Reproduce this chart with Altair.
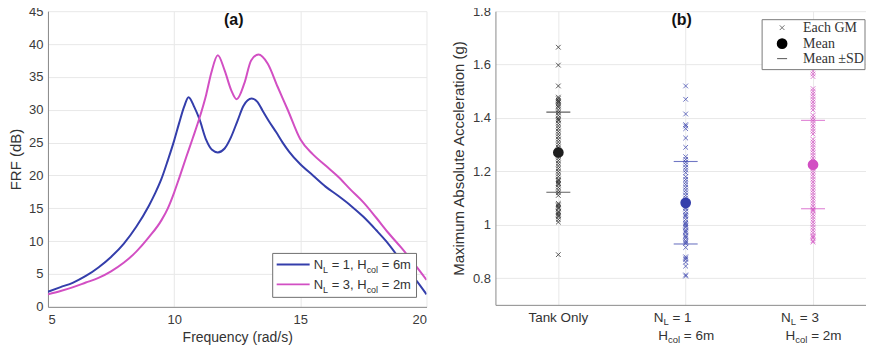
import altair as alt
import pandas as pd

# ---------------- Panel (a): FRF curves ----------------
freq_nl1 = [5.0, 5.5, 6.0, 6.5, 7.0, 7.5, 8.0, 8.5, 9.0, 9.25, 9.5, 9.75, 10.0, 10.2, 10.4,
            10.57, 10.8, 11.0, 11.27, 11.5, 11.73, 12.0, 12.25, 12.5, 12.75, 13.07, 13.3, 13.5,
            13.75, 14.04, 14.3, 14.56, 15.0, 15.5, 16.0, 16.5, 17.0, 17.5, 18.0, 18.4, 18.8,
            19.2, 19.6, 20.0]
frf_nl1 = [2.3, 3.0, 3.7, 4.7, 6.0, 7.6, 9.6, 12.2, 15.4, 17.3, 19.5, 22.3, 25.3, 28.0, 30.5,
           31.9, 30.4, 28.6, 25.4, 23.9, 23.5, 24.1, 25.8, 28.2, 30.6, 31.7, 31.2, 29.9,
           28.3, 26.6, 25.0, 23.6, 21.7, 20.0, 18.3, 16.9, 15.4, 13.7, 11.7, 10.0, 8.0,
           5.8, 4.0, 1.9]
freq_nl3 = [5.0, 5.5, 6.0, 6.5, 7.0, 7.5, 8.0, 8.5, 9.0, 9.5, 9.75, 10.0, 10.2, 10.48, 10.74,
            11.0, 11.27, 11.47, 11.73, 12.0, 12.26, 12.48, 12.78, 13.05, 13.34, 13.71, 14.1,
            14.5, 15.0, 15.5, 16.0, 16.5, 17.0, 17.5, 18.0, 18.5, 19.0, 19.5, 20.0]
frf_nl3 = [1.9, 2.4, 3.0, 3.7, 4.4, 5.4, 6.7, 8.4, 10.6, 13.2, 15.0, 17.4, 19.6, 22.8, 25.7,
           28.7, 32.3, 35.6, 38.3, 36.0, 33.0, 31.6, 34.0, 37.5, 38.4, 37.0, 33.5,
           30.0, 25.5, 23.2, 21.5, 19.8, 17.8, 15.9, 13.6, 11.2, 9.0, 6.6, 4.1]
series_names = ["N_L = 1, H_col = 6m", "N_L = 3, H_col = 2m"]

# ---------------- Panel (b): peak accelerations ----------------
groups = ["Tank Only", "N_L = 1, H_col = 6m", "N_L = 3, H_col = 2m"]
group_pos = [1, 2, 3]
gm_tank = [1.665, 1.598, 1.520, 1.478, 1.472, 1.466, 1.462, 1.458, 1.452, 1.445, 1.44, 1.43,
           1.42, 1.41, 1.40, 1.395, 1.39, 1.38, 1.37, 1.36, 1.35, 1.34, 1.33, 1.32, 1.31,
           1.30, 1.29, 1.28, 1.27, 1.26, 1.25, 1.24, 1.23, 1.22, 1.21, 1.20, 1.19, 1.18,
           1.17, 1.165, 1.16, 1.155, 1.15, 1.14, 1.13, 1.12, 1.11, 1.08, 1.075, 1.07, 1.065,
           1.06, 1.05, 1.045, 1.04, 1.035, 1.03, 1.02, 1.01, 0.888]
gm_nl1 = [1.52, 1.47, 1.415, 1.375, 1.37, 1.36, 1.325, 1.29, 1.255, 1.245, 1.235, 1.225,
          1.215, 1.205, 1.195, 1.18, 1.17, 1.16, 1.15, 1.14, 1.13, 1.12, 1.11, 1.10, 1.09,
          1.085, 1.08, 1.075, 1.07, 1.065, 1.06, 1.05, 1.04, 1.035, 1.03, 1.02, 1.01, 1.005,
          1.0, 0.995, 0.99, 0.98, 0.975, 0.97, 0.96, 0.955, 0.95, 0.94, 0.935, 0.93, 0.915,
          0.88, 0.875, 0.87, 0.86, 0.845, 0.812, 0.808]
gm_nl3 = [1.575, 1.565, 1.555, 1.51, 1.50, 1.49, 1.48, 1.47, 1.46, 1.45, 1.44, 1.43, 1.41,
          1.40, 1.39, 1.38, 1.37, 1.36, 1.35, 1.34, 1.32, 1.31, 1.30, 1.29, 1.28, 1.27, 1.26,
          1.25, 1.24, 1.23, 1.22, 1.21, 1.20, 1.19, 1.18, 1.17, 1.16, 1.15, 1.14, 1.13, 1.12,
          1.11, 1.10, 1.09, 1.08, 1.07, 1.06, 1.055, 1.05, 1.04, 1.03, 1.02, 1.01, 1.0, 0.99,
          0.98, 0.97, 0.96, 0.955, 0.95, 0.94, 0.935]
mean_vals = [1.271, 1.082, 1.225]
sd_upper = [1.422, 1.237, 1.391]
sd_lower = [1.122, 0.928, 1.060]

# ---------------- styling ----------------
SANS = "Liberation Sans"
SERIF = "Liberation Serif"
BLUE = "#343eab"
MAG = "#d24fc3"
BLK = "#1e1e1e"
TXT = "#333333"

AW = {' ': 278, '=': 584, ',': 278, '1': 556, '2': 556, '3': 556, '6': 556, 'm': 833,
      'N': 722, 'L': 556, 'H': 722, 'c': 500, 'o': 556, 'l': 222}


def tw(s, size):
    return sum(AW[c] for c in s) * size / 1000.0


one = pd.DataFrame({"k": [0]})


def rich_layers(pieces, data, x_enc, y_px, start, size, subsize, subdy, color):
    out = []
    off = start
    for txt, sub in pieces:
        fs = subsize if sub else size
        lead = len(txt) - len(txt.lstrip(' '))
        out.append(
            alt.Chart(data).mark_text(
                text=txt.strip(), align="left", baseline="alphabetic", fontSize=fs,
                font=SANS, color=color, dx=off + tw(' ' * lead, fs), dy=subdy if sub else 0
            ).encode(x=x_enc, y=alt.value(y_px))
        )
        off += tw(txt, fs)
    return out


# ---------------- Panel (a) ----------------
W_A, H_A = 379, 296
df_a = pd.DataFrame({
    "freq": freq_nl1 + freq_nl3,
    "frf": frf_nl1 + frf_nl3,
    "series": [series_names[0]] * len(freq_nl1) + [series_names[1]] * len(freq_nl3),
})
xa = alt.X("freq:Q", scale=alt.Scale(domain=[5, 20], nice=False, zero=False),
           axis=alt.Axis(values=[5, 10, 15, 20], title="Frequency (rad/s)", labelPadding=7,
                         titlePadding=3.5, titleFontSize=14))
ya = alt.Y("frf:Q", scale=alt.Scale(domain=[0, 45], nice=False),
           axis=alt.Axis(values=list(range(0, 46, 5)), title="FRF (dB)", titleFontSize=15,
                         titlePadding=5.5, labelPadding=5))
lines = alt.Chart(df_a).mark_line(strokeWidth=2, interpolate="monotone", clip=True).encode(
    x=xa, y=ya,
    color=alt.Color("series:N", scale=alt.Scale(domain=series_names, range=[BLUE, MAG]), legend=None),
)
title_a = alt.Chart(one).mark_text(text="(a)", fontWeight="bold", fontSize=16, font=SANS,
                                   color="#111111", baseline="middle", align="center").encode(
    x=alt.value(186), y=alt.value(8.5))
leg_box_a = alt.Chart(one).mark_rect(fill="white", stroke="#6e6e6e", strokeWidth=1).encode(
    x=alt.value(225), x2=alt.value(369), y=alt.value(242.5), y2=alt.value(286.5))
leg_l1 = alt.Chart(one).mark_rule(color=BLUE, strokeWidth=2).encode(
    x=alt.value(229), x2=alt.value(262), y=alt.value(253.5))
leg_l2 = alt.Chart(one).mark_rule(color=MAG, strokeWidth=2).encode(
    x=alt.value(229), x2=alt.value(262), y=alt.value(273.5))
leg_t1 = rich_layers([("N", 0), ("L", 1), (" = 1, H", 0), ("col", 1), (" = 6m", 0)],
                     one, alt.value(266), 258.2, 0, 13, 9, 3.5, TXT)
leg_t2 = rich_layers([("N", 0), ("L", 1), (" = 3, H", 0), ("col", 1), (" = 2m", 0)],
                     one, alt.value(266), 278.2, 0, 13, 9, 3.5, TXT)

panel_a = alt.layer(lines, title_a, leg_box_a, leg_l1, leg_l2, *leg_t1, *leg_t2).properties(
    width=W_A, height=H_A)

# ---------------- Panel (b) ----------------
W_B, H_B = 371, 294
XB = alt.X("xpos:Q", scale=alt.Scale(domain=[0.506, 3.416], nice=False, zero=False),
           axis=alt.Axis(values=[1, 2, 3], labels=False, ticks=False, title=None, grid=True))
YB = alt.Y("acc:Q", scale=alt.Scale(domain=[0.7, 1.8], nice=False, zero=False),
           axis=alt.Axis(values=[0.8, 1.0, 1.2, 1.4, 1.6, 1.8], format="~g",
                         title="Maximum Absolute Acceleration (g)", titleFontSize=15,
                         titlePadding=5.5, labelPadding=5))
COLB = alt.Color("group:N", scale=alt.Scale(domain=groups, range=[BLK, BLUE, MAG]), legend=None)

gm_lists = [gm_tank, gm_nl1, gm_nl3]
df_gm = pd.DataFrame({
    "xpos": [p for p, g in zip(group_pos, gm_lists) for _ in g],
    "acc": [v for g in gm_lists for v in g],
    "group": [n for n, g in zip(groups, gm_lists) for _ in g],
})
df_mean = pd.DataFrame({"xpos": group_pos, "acc": mean_vals, "group": groups})
df_sd = pd.DataFrame({"xpos": group_pos * 2, "acc": sd_upper + sd_lower, "group": groups * 2})

CROSS = "M-1,-1L1,1M-1,1L1,-1"
pts = alt.Chart(df_gm).mark_point(shape=CROSS, filled=False, size=22, strokeWidth=0.9,
                                  opacity=0.8).encode(x=XB, y=YB, color=COLB)
sds = alt.Chart(df_sd).mark_tick(orient="horizontal", size=24, thickness=1.1).encode(
    x=XB, y=YB, color=COLB)
means = alt.Chart(df_mean).mark_point(shape="circle", filled=True, size=115, opacity=1).encode(
    x=XB, y=YB, color=COLB)

title_b = alt.Chart(one).mark_text(text="(b)", fontWeight="bold", fontSize=16, font=SANS,
                                   color="#111111", baseline="middle", align="center").encode(
    x=alt.value(186.5), y=alt.value(8.5))
leg_box_b = alt.Chart(one).mark_rect(fill="white", stroke="#7a7a7a", strokeWidth=1).encode(
    x=alt.value(267), x2=alt.value(370), y=alt.value(8.5), y2=alt.value(58.5))
leg_sym1 = alt.Chart(one).mark_point(shape=CROSS, filled=False, size=22, strokeWidth=0.9,
                                     color="#222222").encode(x=alt.value(287), y=alt.value(16.5))
leg_sym2 = alt.Chart(one).mark_point(shape="circle", filled=True, size=115, opacity=1,
                                     color="#000000").encode(x=alt.value(287), y=alt.value(32.5))
leg_sym3 = alt.Chart(one).mark_rule(color="#555555", strokeWidth=1).encode(
    x=alt.value(282), x2=alt.value(292), y=alt.value(47.5))
leg_txt_b = [
    alt.Chart(one).mark_text(text=t, align="left", baseline="middle", fontSize=14, font=SERIF,
                             color=TXT).encode(x=alt.value(308), y=alt.value(yy))
    for t, yy in [("Each GM", 16.5), ("Mean", 32.5), ("Mean \u00b1SD", 47.5)]
]

ROW1, ROW2 = H_B + 17.5, H_B + 35
lab_tank = alt.Chart(pd.DataFrame({"xpos": [group_pos[0]]})).mark_text(
    text="Tank Only", align="center", baseline="alphabetic", fontSize=13.5, font=SANS,
    color=TXT).encode(x=XB, y=alt.value(ROW1))
lab_layers = [lab_tank]
for pos, nl, hc in [(group_pos[1], "1", "6m"), (group_pos[2], "3", "2m")]:
    dpos = pd.DataFrame({"xpos": [pos]})
    lab_layers += rich_layers([("N", 0), ("L", 1), (" = " + nl, 0)], dpos, XB,
                              ROW1, -32, 13.5, 9.5, 2.5, TXT)
    lab_layers += rich_layers([("H", 0), ("col", 1), (" = " + hc, 0)], dpos, XB,
                              ROW2, -27.5, 13.5, 9.5, 3, TXT)

panel_b = alt.layer(pts, sds, means, title_b, leg_box_b, leg_sym1, leg_sym2, leg_sym3,
                    *leg_txt_b, *lab_layers).properties(width=W_B, height=H_B)

chart = alt.hconcat(panel_a, panel_b, spacing=25).resolve_scale(color="independent").properties(
    padding={"left": 0, "top": -3, "right": 0, "bottom": 0}
).configure_view(stroke=None).configure_axis(
    labelFont=SANS, titleFont=SANS, labelFontSize=13, labelColor="#3a3a3a",
    titleColor=TXT, titleFontWeight="normal", gridColor="#e8e8e8", gridWidth=1,
    domainColor="#8a8a8a", domainWidth=1, ticks=False
)

chart.save("out.html", embed_options={"renderer": "svg", "actions": False})
